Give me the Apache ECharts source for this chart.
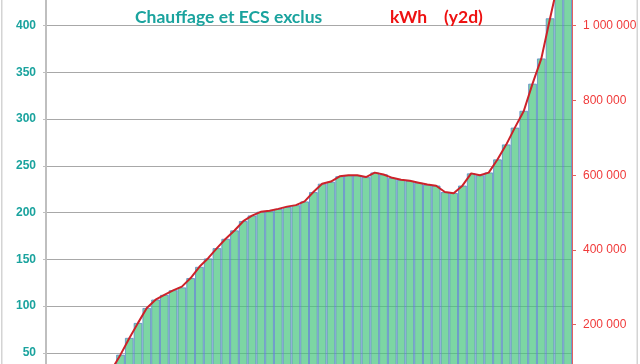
<!DOCTYPE html>
<html>
<head>
<meta charset="utf-8">
<script src="https://cdn.jsdelivr.net/npm/echarts@6/dist/echarts.min.js"></script>
<style>html,body{margin:0;padding:0;background:#fff}#c{width:640px;height:364px}</style>
</head>
<body>
<div id="c"></div>
<script>
var categories = ['1','2','3','4','5','6','7','8','9','10','11','12','13','14','15','16','17','18','19','20',
  '21','22','23','24','25','26','27','28','29','30','31','32','33','34','35','36','37','38','39','40',
  '41','42','43','44','45','46','47','48','49','50','51','52','53','54','55','56','57','58','59','60'];
var barValues = [null,null,null,null,null,2,16,32,48,66,82,98,107,112,117,120,130,142,151,162,
  172,181,191,197,201,202,204,206,208,212,222,231,233,239,240,240,238,243,241,237,
  235,234,232,230,229,222,221,229,242,240,243,257,273,291,309,338,365,408,450,490];
var lineKwh = [null,null,null,null,null,5000,40000,80000,120000,164000,205000,245000,267000,280000,292000,302000,325000,355000,378000,405000,
  430000,452000,477000,492000,502000,505000,510000,516000,520000,530000,555000,577000,583000,597000,600000,600000,595000,607000,602000,593000,
  588000,585000,580000,575000,572000,555000,552000,572000,605000,600000,607000,642000,682000,728000,772000,845000,912000,1020000,1125000,1225000];
var leftTicks = {min: 0, max: 450, interval: 50};
var rightTicks = {min: 0, max: 1125000, interval: 200000};
var titleLeft = 'Chauffage et ECS exclus';
var titleRight = 'kWh    (y2d)';

var chart = echarts.init(document.getElementById('c'), null, {renderer: 'canvas'});
function spaced(v) {
  return String(v).replace(/\B(?=(\d{3})+(?!\d))/g, ' ');
}
chart.setOption({
  animation: false,
  backgroundColor: '#ffffff',
  title: [
    {text: titleLeft, left: 130, top: 3, textStyle: {fontFamily: 'Lato', fontWeight: 'bold', fontSize: 17.5, color: '#1aa39e'}},
    {text: titleRight, left: 385, top: 3, textStyle: {fontFamily: 'Lato', fontWeight: 'bold', fontSize: 17.5, color: '#ee1111'}}
  ],
  graphic: [
    {type: 'rect', shape: {x: 1, y: 0, width: 1.5, height: 364}, style: {fill: '#d4d4d4'}, silent: true},
    {type: 'rect', shape: {x: 636.5, y: 0, width: 1.5, height: 364}, style: {fill: '#d4d4d4'}, silent: true}
  ],
  grid: {left: 46, right: 68, top: -21, bottom: -35.5, containLabel: false, outerBoundsMode: 'none'},
  xAxis: {
    type: 'category', data: categories, boundaryGap: true,
    axisLine: {show: false}, axisTick: {show: false}, axisLabel: {show: false}
  },
  yAxis: [
    {
      type: 'value', position: 'left', min: leftTicks.min, max: leftTicks.max, interval: leftTicks.interval,
      axisLine: {show: true, lineStyle: {color: '#bfbfbf', width: 2}},
      axisTick: {show: true, length: 3, lineStyle: {color: '#bfbfbf'}},
      axisLabel: {color: '#1aa39e', fontWeight: 'bold', fontSize: 12, fontFamily: 'Liberation Sans', margin: 10},
      splitLine: {show: true, lineStyle: {color: '#a8a8a8', width: 1}}
    },
    {
      type: 'value', position: 'right', min: rightTicks.min, max: rightTicks.max, interval: rightTicks.interval,
      axisLine: {show: true, lineStyle: {color: '#e46060', width: 1}},
      axisTick: {show: true, length: 4, lineStyle: {color: '#e46060'}},
      axisLabel: {color: '#f03a3a', fontSize: 12, fontFamily: 'Liberation Sans', margin: 11, formatter: spaced},
      splitLine: {show: false}
    }
  ],
  series: [
    {
      type: 'bar', yAxisIndex: 0, data: barValues, barCategoryGap: '0%',
      itemStyle: {color: 'rgba(69,196,124,0.7)', borderColor: 'rgba(95,140,200,0.85)', borderWidth: 1}
    },
    {
      type: 'line', yAxisIndex: 1, data: lineKwh, symbol: 'none',
      lineStyle: {color: '#cc2229', width: 2}
    }
  ]
});
</script>
</body>
</html>
